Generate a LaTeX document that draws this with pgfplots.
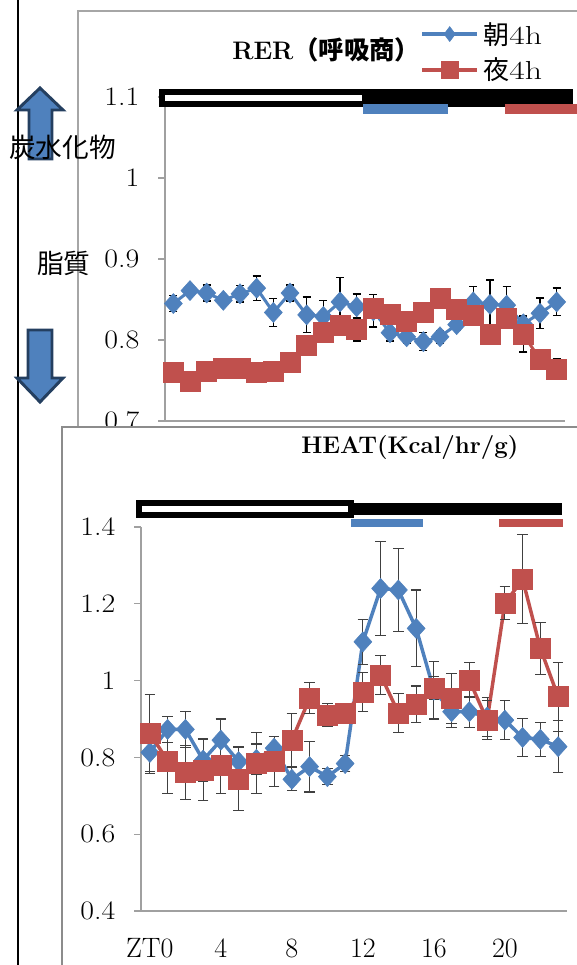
\documentclass[border=0pt]{standalone}
\usepackage{pgfplots}
\usepackage{pgfplotstable}
\pgfplotsset{compat=1.18}
\usepackage{fontspec}
\newfontfamily\cjk{Noto Sans CJK JP}
\definecolor{xblue}{HTML}{4F81BD}
\definecolor{xred}{HTML}{C0504D}
\definecolor{axgray}{HTML}{A0A0A0}
\definecolor{framegray}{HTML}{A6A6A6}
\definecolor{frametwo}{HTML}{8C8C8C}
\definecolor{navy}{HTML}{243F60}
\definecolor{errgray}{HTML}{404040}

\pgfplotstableread{
x y e
0 0.845 0.010
1 0.861 0.006
2 0.858 0.010
3 0.849 0.005
4 0.857 0.010
5 0.864 0.015
6 0.834 0.017
7 0.858 0.010
8 0.831 0.022
9 0.829 0.020
10 0.847 0.030
11 0.841 0.016
12 0.836 0.020
13 0.809 0.010
14 0.804 0.008
15 0.798 0.011
16 0.804 0.008
17 0.819 0.007
18 0.847 0.019
19 0.844 0.030
20 0.843 0.023
21 0.820 0.010
22 0.833 0.019
23 0.847 0.017
}\rerblue

\pgfplotstableread{
x y e
0 0.760 0.008
1 0.749 0.008
2 0.762 0.008
3 0.765 0.008
4 0.765 0.008
5 0.760 0.008
6 0.762 0.008
7 0.773 0.008
8 0.793 0.008
9 0.810 0.010
10 0.818 0.010
11 0.813 0.014
12 0.839 0.010
13 0.832 0.010
14 0.823 0.008
15 0.834 0.008
16 0.851 0.008
17 0.838 0.008
18 0.830 0.008
19 0.807 0.008
20 0.827 0.010
21 0.807 0.022
22 0.776 0.012
23 0.764 0.013
}\rerred

\pgfplotstableread{
x y e
0 0.813 0.054
1 0.873 0.033
2 0.873 0.046
3 0.793 0.055
4 0.845 0.055
5 0.789 0.040
6 0.795 0.040
7 0.824 0.030
8 0.743 0.030
9 0.776 0.066
10 0.750 0.020
11 0.784 0.020
12 1.101 0.058
13 1.240 0.122
14 1.236 0.108
15 1.136 0.100
16 0.975 0.075
17 0.919 0.040
18 0.919 0.040
19 0.905 0.050
20 0.897 0.050
21 0.852 0.050
22 0.847 0.045
23 0.828 0.068
}\heatblue

\pgfplotstableread{
x y e
0 0.863 0.100
1 0.791 0.085
2 0.761 0.070
3 0.767 0.080
4 0.780 0.074
5 0.743 0.082
6 0.786 0.080
7 0.789 0.065
8 0.845 0.070
9 0.954 0.040
10 0.910 0.030
11 0.915 0.020
12 0.970 0.050
13 1.015 0.050
14 0.916 0.050
15 0.939 0.047
16 0.980 0.030
17 0.954 0.065
18 1.001 0.045
19 0.897 0.050
20 1.201 0.043
21 1.264 0.116
22 1.084 0.068
23 0.958 0.090
}\heatred

\begin{document}
\begin{tikzpicture}
\useasboundingbox (0,0) rectangle (432.75pt,-723.75pt);

% upper panel frame
\begin{scope}[x=0.75pt,y=-0.75pt]
\draw[framegray, line width=1.1pt, fill=white] (78,11) rectangle (640,445);
\end{scope}

\begin{axis}[
  at={(123.75pt,-315.75pt)}, anchor=south west,
  scale only axis, width=300pt, height=243pt,
  xmin=-0.5, xmax=23.5, ymin=0.7, ymax=1.1,
  axis x line*=bottom, axis y line*=left,
  axis line style={axgray, line width=0.9pt},
  xtick=\empty,
  ytick={0.7,0.8,0.9,1,1.1},
  /pgf/number format/assume math mode=true,
  tick align=outside, major tick length=5pt,
  tick style={axgray, line width=0.9pt},
  yticklabel style={font=\fontsize{20}{22}\selectfont, inner sep=0pt, xshift=-14pt, xscale=1.12},
  clip=false,
  legend style={at={(rel axis cs:0.6375,1.1389)}, anchor=west, draw=none, fill=none,
     inner sep=0pt, row sep=9pt, column sep=3pt,
     font=\fontsize{19.5}{21}\selectfont, nodes={inner sep=0pt}},
  legend cell align=left,
  legend image code/.code={\draw[mark repeat=2, mark phase=2, #1] plot coordinates {(0pt,0pt) (20.6pt,0pt) (41.25pt,0pt)};},
]
\addplot[forget plot, xblue, line width=2.25pt, mark=diamond*, mark size=7.5pt,
  mark options={xscale=1.2, fill=xblue, draw=xblue, line width=0.4pt},
  error bars/.cd, y dir=both, y explicit,
  error bar style={black, line width=1.1pt},
  error mark options={rotate=90, black, mark size=3pt, line width=1.1pt}]
  table[x=x, y=y, y error=e] {\rerblue};
\addplot[forget plot, xred, line width=2.25pt, mark=square*, mark size=7.5pt,
  mark options={fill=xred, draw=xred, line width=0.4pt},
  error bars/.cd, y dir=both, y explicit,
  error bar style={black, line width=1.1pt},
  error mark options={rotate=90, black, mark size=3pt, line width=1.1pt}]
  table[x=x, y=y, y error=e] {\rerred};
\addlegendimage{xblue, line width=3pt, mark=diamond*, mark size=5.6pt, mark options={fill=xblue, draw=xblue, line width=0.4pt}}
\addlegendentry{{\cjk 朝}\scalebox{1.3}[1]{4h}}
\addlegendimage{xred, line width=3pt, mark=square*, mark size=6.4pt, mark options={fill=xred, draw=xred, line width=0.4pt}}
\addlegendentry{{\cjk 夜}\scalebox{1.3}[1]{4h}}
\end{axis}

\begin{scope}[x=0.75pt,y=-0.75pt]
% light/dark bars (upper)
\fill[black] (362,89) rectangle (573,107);
\draw[black, line width=4.5pt, fill=white] (162,92) rectangle (365,104);
\fill[xblue] (363,104) rectangle (448,114);
\fill[xred] (505,104) rectangle (577,114);
\node[anchor=west, inner sep=0pt] at (232,50) {\fontsize{19}{22}\selectfont\bfseries RER{\cjk （呼吸商）}};

% lower panel
\draw[frametwo, line width=1.5pt, fill=white] (62,426.5) rectangle (640,1000);
\end{scope}

\begin{axis}[
  at={(105.75pt,-683.25pt)}, anchor=south west,
  scale only axis, width=319.5pt, height=288pt,
  xmin=-0.5, xmax=23.5, ymin=0.4, ymax=1.4,
  axis x line*=bottom, axis y line*=left,
  axis line style={axgray, line width=0.9pt},
  xtick={0,4,8,12,16,20}, xticklabels={ZT0,4,8,12,16,20},
  major x tick style={draw=none},
  xticklabel style={font=\fontsize{21}{24}\selectfont, inner sep=0pt, yshift=-15.5pt},
  ytick={0.4,0.6,0.8,1,1.2,1.4},
  /pgf/number format/assume math mode=true,
  tick align=outside, major tick length=5pt,
  tick style={axgray, line width=0.9pt},
  yticklabel style={font=\fontsize{20}{22}\selectfont, inner sep=0pt, xshift=-14pt, xscale=1.12},
  clip=false,
]
\addplot[xblue, line width=2.6pt, mark=diamond*, mark size=7.5pt,
  mark options={xscale=1.2, fill=xblue, draw=xblue, line width=0.4pt},
  error bars/.cd, y dir=both, y explicit,
  error bar style={errgray, line width=0.8pt},
  error mark options={rotate=90, errgray, mark size=4pt, line width=0.8pt}]
  table[x=x, y=y, y error=e] {\heatblue};
\addplot[xred, line width=2.6pt, mark=square*, mark size=7.5pt,
  mark options={fill=xred, draw=xred, line width=0.4pt},
  error bars/.cd, y dir=both, y explicit,
  error bar style={errgray, line width=0.8pt},
  error mark options={rotate=90, errgray, mark size=4pt, line width=0.8pt}]
  table[x=x, y=y, y error=e] {\heatred};
\end{axis}

\begin{scope}[x=0.75pt,y=-0.75pt]
\fill[black] (349,503) rectangle (562,515);
\draw[black, line width=4pt, fill=white] (139,503) rectangle (351,515);
\fill[xblue] (351,519) rectangle (423,527);
\fill[xred] (499,519) rectangle (563,527);
\node[anchor=west, inner sep=0pt] at (301,448) {\fontsize{18}{20}\selectfont\bfseries HEAT(Kcal/hr/g)};

% left vertical line
\draw[black, line width=1.5pt] (18,-5) -- (18,975);
% arrows
\draw[navy, line width=2.2pt, fill=xblue, line join=miter]
  (40,88) -- (63,110) -- (52,110) -- (52,159) -- (29,159) -- (29,110) -- (17,110) -- cycle;
\draw[navy, line width=2.2pt, fill=xblue, line join=miter]
  (28,330) -- (52,330) -- (52,378) -- (63,378) -- (40,402) -- (17,378) -- (28,378) -- cycle;
\node[anchor=west, inner sep=0pt] at (9,147) {\cjk\fontsize{20}{22}\selectfont 炭水化物};
\node[anchor=west, inner sep=0pt] at (37,263) {\cjk\fontsize{20}{22}\selectfont 脂質};
\end{scope}
\end{tikzpicture}
\end{document}
